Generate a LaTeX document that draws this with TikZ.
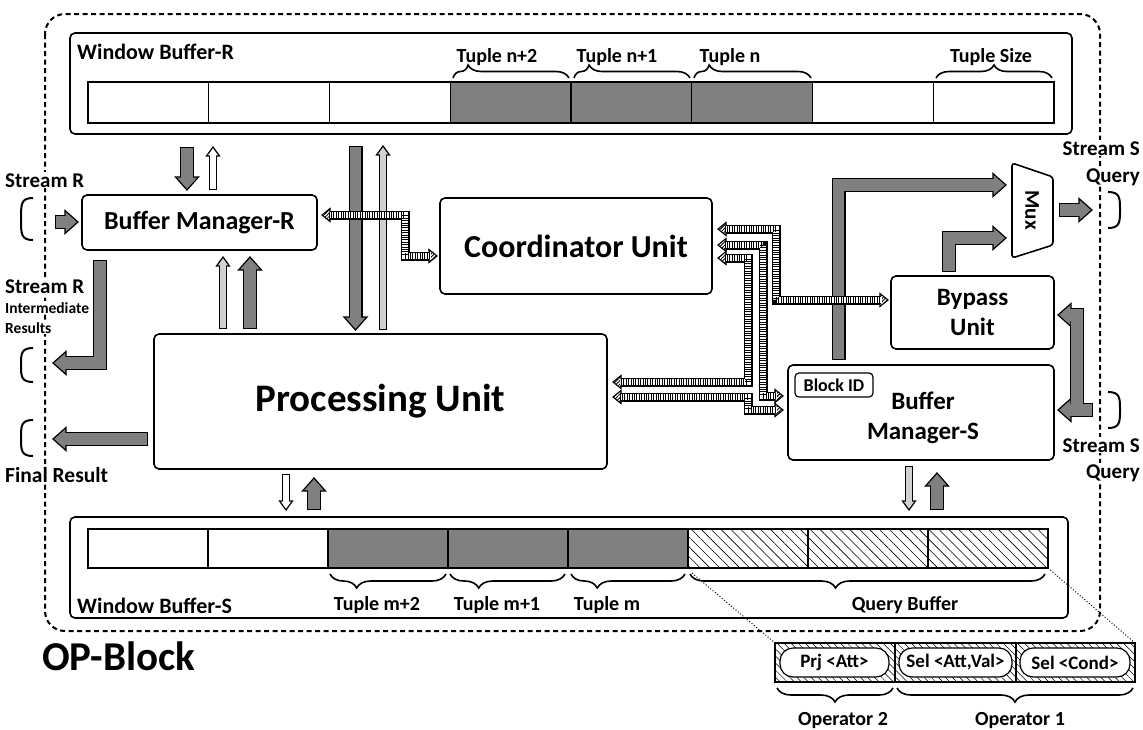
\documentclass[tikz,border=0pt]{standalone}
\usepackage{fontspec}
\setmainfont{Carlito}
\usetikzlibrary{patterns.meta,decorations.pathreplacing,calc}

\newcommand\fsz[1]{\fontsize{#1}{#1}\selectfont\bfseries}
\colorlet{gfill}{black!50}
\colorlet{lfill}{black!18}

\def\Ghw{11.5}\def\Glen{13}
\def\Whw{6.5}\def\Wlen{9}
\def\Lhw{6.5}\def\Llen{9}
\def\Hhw{6.5}\def\Hlen{8}

\newcommand\tipat[3]{\begin{scope}[shift={#2},rotate=#3]\path[#1tip] (0pt,-\csname #1hw\endcsname pt) -- (\csname #1len\endcsname pt,0pt) -- (0pt,\csname #1hw\endcsname pt) -- cycle;\end{scope}}
\newcommand\barrow[4]{\draw[#1out] #2;\tipat{#1}{#3}{#4}\draw[#1in] #2;}
\newcommand\harrow[5]{\draw[Hout] #1;\tipat{H}{#2}{#3}\tipat{H}{#4}{#5}\draw[Hin] #1;}
\newcommand\lbrk[2]{\draw[brk] (33,#1-#2) .. controls (21,#1-#2) and (21,#1-#2+6) .. (21,#1) .. controls (21,#1+#2-6) and (21,#1+#2) .. (33,#1+#2);}
\newcommand\rbrk[2]{\draw[brk] (1108,#1-#2) .. controls (1120,#1-#2) and (1120,#1-#2+6) .. (1120,#1) .. controls (1120,#1+#2-6) and (1120,#1+#2) .. (1108,#1+#2);}

\tikzset{
 box/.style={draw, line width=1.6pt, rounded corners=5pt, fill=white, inner sep=0pt},
 cellline/.style={line width=1.2pt},
 Gout/.style={draw=black, line width=14pt, line join=miter},
 Gin/.style={draw=gfill, line width=11.6pt, line join=miter, shorten <=1.2pt, shorten >=-1.5pt},
 Gtip/.style={fill=gfill, draw=black, line width=1.2pt, line join=miter},
 Wout/.style={draw=black, line width=8.6pt},
 Win/.style={draw=white, line width=6.2pt, shorten <=1.2pt, shorten >=-1.5pt},
 Wtip/.style={fill=white, draw=black, line width=1.2pt, line join=miter},
 Lout/.style={draw=black, line width=8.6pt},
 Lin/.style={draw=lfill, line width=6.2pt, shorten <=1.2pt, shorten >=-1.5pt},
 Ltip/.style={fill=lfill, draw=black, line width=1.2pt, line join=miter},
 Hout/.style={draw=black, line width=9pt, line join=miter},
 Hin/.style={draw=white, line width=6.6pt, line join=miter, shorten <=-1.5pt, shorten >=-1.5pt,
   postaction={draw=black, line width=6.6pt, dash pattern=on 1pt off 1.4pt}},
 Htip/.style={pattern={Lines[angle=45,distance=2.4pt,line width=0.9pt]}, draw=black, line width=1.1pt, line join=miter},
 brace/.style={decorate, decoration={brace, amplitude=13pt, aspect=#1}, line width=1.6pt},
 mbrace/.style={decorate, decoration={brace, mirror, amplitude=14pt, aspect=#1}, line width=1.6pt},
 brk/.style={line width=2pt},
 lbl/.style={fill=white, inner sep=1pt},
 txt/.style={inner sep=0pt},
 pill/.style={draw, fill=white, line width=1.2pt, rounded corners=13pt, minimum height=29pt, inner sep=0pt, font={\fsz{19}}},
 opb/.style={line width=2pt, dash pattern=on 5pt off 3.5pt, rounded corners=20pt},
 qhatch/.style={pattern={Lines[angle=-45,distance=7pt,line width=0.6pt]}},
 ohatch/.style={pattern={Lines[angle=-45,distance=5pt,line width=0.5pt]}},
}

\begin{document}
\begin{tikzpicture}[x=1pt,y=-1pt]
\useasboundingbox (0,0) rectangle (1143,729);

% OP-Block border
\draw[opb] (45,14) rectangle (1100,631);

% Window Buffer-R
\node[box, minimum width=1002pt, minimum height=101pt] (wbr) at (571,83.5) {};
\node[txt, anchor=base west, font={\fsz{22}}] (wbrl) at (77,59) {Window Buffer-R};
\fill[gfill] (450.25,82) rectangle (812.5,123);
\draw[cellline] (88,82) rectangle (1054,123);
\foreach \xx in {208.75,329.5,450.25,571,691.75,812.5,933.25}
  \draw[cellline] (\xx,82) -- (\xx,123);
\draw[brace=0.13] (453,78) -- (569,78);
\draw[brace=0.13] (574,78) -- (690,78);
\draw[brace=0.13] (694,78) -- (811,78);
\draw[brace=0.5] (936,78) -- (1052,78);
\node[txt, anchor=base, font={\fsz{20}}] (tn2) at (497,62) {Tuple n+2};
\node[txt, anchor=base, font={\fsz{20}}] (tn1) at (617,62) {Tuple n+1};
\node[txt, anchor=base, font={\fsz{20}}] (tn) at (730,62) {Tuple n};
\node[txt, anchor=base, font={\fsz{20}}] (tsz) at (991,62) {Tuple Size};

% Window Buffer-S
\node[box, minimum width=998pt, minimum height=101pt] (wbs) at (569,567.5) {};
\node[txt, anchor=base west, font={\fsz{22}}] (wbsl) at (77,613) {Window Buffer-S};
\fill[gfill] (328,529) rectangle (688,568);
\fill[qhatch] (688,529) rectangle (1048,568);
\draw[cellline] (88,529) rectangle (1048,568);
\foreach \xx in {208,328,448,568,688,808,928}
  \draw[cellline] (\xx,529) -- (\xx,568);
\draw[mbrace=0.23] (330,574) -- (446,574);
\draw[mbrace=0.25] (450,574) -- (565,574);
\draw[mbrace=0.23] (571,574) -- (685,574);
\draw[mbrace=0.41] (690,574) -- (1045,574);
\node[txt, anchor=base, font={\fsz{20}}] (tm2) at (377,610) {Tuple m+2};
\node[txt, anchor=base, font={\fsz{20}}] (tm1) at (497,610) {Tuple m+1};
\node[txt, anchor=base, font={\fsz{20}}] (tm) at (607,610) {Tuple m};
\node[txt, anchor=base, font={\fsz{20}}] (qb) at (905,610) {Query Buffer};

% main boxes
\node[box, minimum width=235pt, minimum height=55pt, font={\fsz{26}}] (bmr) at (199.5,222.5) {Buffer Manager-R};
\node[box, minimum width=272pt, minimum height=96pt, font={\fsz{32}}] (coord) at (576,246) {Coordinator Unit};
\node[box, minimum width=453pt, minimum height=135pt, font={\fsz{39}}] (proc) at (380.5,401.5) {Processing Unit};
\node[box, minimum width=163pt, minimum height=73pt, align=center, font={\fontsize{25}{30}\selectfont\bfseries}] (byp) at (972.5,312.5) {Bypass\\Unit};
\node[box, minimum width=266pt, minimum height=95pt] (bms) at (921,412.5) {};
\node[align=center, font={\fontsize{25}{30}\selectfont\bfseries}] (bmst) at (923,418) {Buffer\\Manager-S};
\node[draw, line width=1.2pt, rounded corners=4pt, minimum width=78pt, minimum height=24pt, inner sep=0pt, font={\fsz{18}}] (bid) at (834,385) {Block ID};

% Mux
\draw[line width=1.6pt, rounded corners=3pt, fill=white] (1012,163) -- (1053,177) -- (1053,245) -- (1012,258) -- cycle;
\node[rotate=-90, font={\fsz{21}}] (mux) at (1032,210) {Mux};

% labels outside
\node[lbl, anchor=base west, font={\fsz{21}}] (sr) at (4,187) {Stream R};
\node[lbl, anchor=base west, font={\fsz{21}}] (sri) at (4,293) {Stream R};
\node[lbl, anchor=base west, font={\fsz{15.5}}] (sri2) at (4,313) {Intermediate};
\node[lbl, anchor=base west, font={\fsz{15.5}}] (sri3) at (4,333) {Results};
\node[txt, anchor=base west, font={\fsz{21.5}}] (fr) at (5,482) {Final Result};
\node[lbl, anchor=base east, font={\fsz{21}}] (ss1) at (1141,155) {Stream S};
\node[lbl, anchor=base east, font={\fsz{21}}] (sq1) at (1141,182) {Query};
\node[lbl, anchor=base east, font={\fsz{21}}] (ss2) at (1141,452) {Stream S};
\node[lbl, anchor=base east, font={\fsz{21}}] (sq2) at (1141,478) {Query};
\node[txt, anchor=base west, font={\fsz{41}}] (opbl) at (42,670) {OP-Block};

% brackets
\lbrk{219}{21}
\lbrk{365}{17}
\lbrk{438}{18}
\rbrk{210}{18}
\rbrk{410}{18}

% gray / thin arrows
\barrow{G}{(187,147)--(187,177)}{(187,177)}{270}
\barrow{W}{(213,190)--(213,156)}{(213,156)}{90}
\barrow{G}{(55,222)--(65,222)}{(65,222)}{0}
\barrow{G}{(355.5,146)--(355.5,317)}{(355.5,317)}{270}
\barrow{L}{(383,330)--(383,155)}{(383,155)}{90}
\barrow{L}{(223,329)--(223,266)}{(223,266)}{90}
\barrow{G}{(250,329)--(250,270)}{(250,270)}{90}
\barrow{G}{(100,260)--(100,363)--(66,363)}{(66,363)}{180}
\barrow{G}{(148,439)--(66,439)}{(66,439)}{180}
\barrow{W}{(286,474)--(286,501)}{(286,501)}{270}
\barrow{G}{(314,510)--(314,491)}{(314,491)}{90}
\barrow{L}{(909,466)--(909,501)}{(909,501)}{270}
\barrow{G}{(937,510)--(937,486)}{(937,486)}{90}
\barrow{G}{(838.5,360)--(838.5,185)--(993,185)}{(993,185)}{0}
\barrow{G}{(949,272)--(949,238)--(993,238)}{(993,238)}{0}
\barrow{G}{(1059,210)--(1079,210)}{(1079,210)}{0}
% Stream S input (branching)
\draw[Gout] (1093,410)--(1071,410);
\draw[Gout] (1077,410)--(1077,315)--(1071,315);
\tipat{G}{(1071,410)}{180}
\tipat{G}{(1071,315)}{180}
\draw[Gin] (1093,410)--(1071,410);
\draw[Gin, shorten <=0pt] (1077,410)--(1077,315)--(1071,315);

% hatched arrows
\harrow{(330,215)--(405,215)--(405,256)--(429,256)}{(330,215)}{180}{(429,256)}{0}
\harrow{(726,229)--(776,229)--(776,300)--(880,300)}{(726,229)}{180}{(880,300)}{0}
\harrow{(726,245)--(763,245)--(763,396)--(775,396)}{(726,245)}{180}{(775,396)}{0}
\harrow{(726,258)--(748,258)--(748,382)--(621,382)}{(726,258)}{180}{(621,382)}{180}
\harrow{(621,397)--(748,397)--(748,410)--(775,410)}{(621,397)}{180}{(775,410)}{0}

% operator detail
\draw[line width=1pt, dash pattern=on 1pt off 2pt] (692,573) -- (775,643);
\draw[line width=1pt, dash pattern=on 1pt off 2pt] (1048,568) -- (1135,643);
\fill[ohatch] (775,643) rectangle (1135,682);
\draw[cellline] (775,643) rectangle (1135,682);
\draw[cellline] (895,643) -- (895,682);
\draw[cellline] (1016,643) -- (1016,682);
\node[pill, minimum width=109pt] (p1) at (834.5,662.5) {Prj <Att>};
\node[pill, minimum width=113pt] (p2) at (955.5,662.5) {Sel <Att,Val>};
\node[pill, minimum width=110pt] (p3) at (1075,662.5) {Sel <Cond>};
\draw[mbrace=0.5] (777,688) -- (893,688);
\draw[mbrace=0.5] (897,688) -- (1133,688);
\node[txt, anchor=base, font={\fsz{20}}] (op2) at (843,725) {Operator 2};
\node[txt, anchor=base, font={\fsz{20}}] (op1) at (1020,725) {Operator 1};
\end{tikzpicture}
\end{document}
